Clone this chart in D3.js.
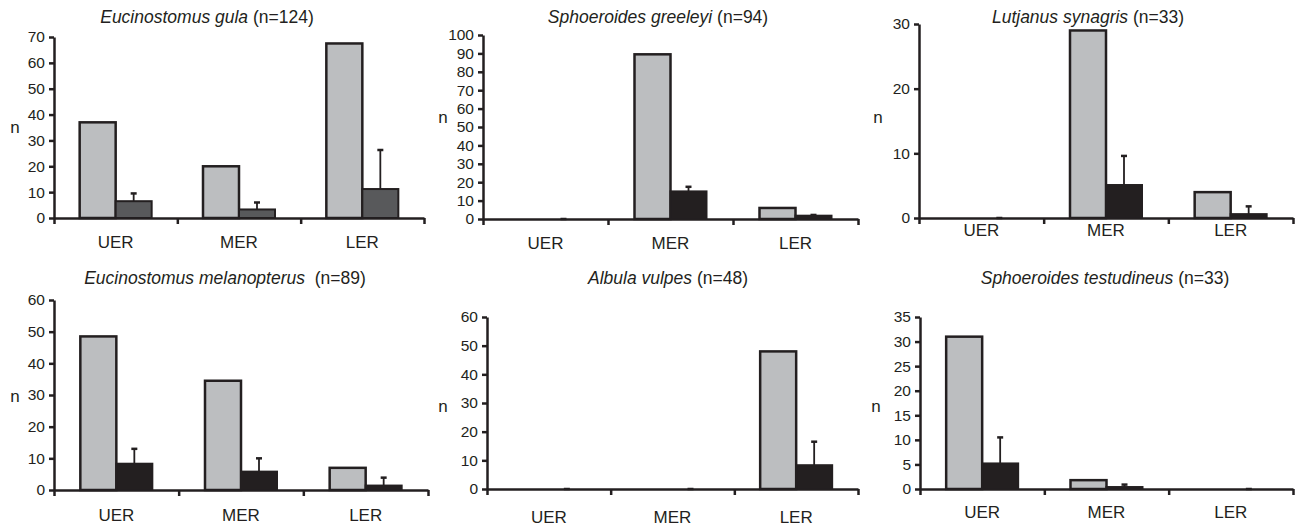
<!DOCTYPE html>
<html>
<head>
<meta charset="utf-8">
<script src="https://cdn.jsdelivr.net/npm/d3@7"></script>
<style>
    body { margin: 0; background: #fff; }
    svg { display: block; font-family: "Liberation Sans", Arial, sans-serif; }
    .axis path, .axis line { stroke: #231f20; stroke-width: 2.5; }
    .axis text { fill: #231f20; font-size: 15.5px; font-family: "Liberation Sans", Arial, sans-serif; }
</style>
</head>
<body>
<div id="chart"></div>
<script>
// Six small panels: counts per estuary region, grey = n, dark = mean with error bar
const regions = ["UER", "MER", "LER"];
const speciesNames = ["Eucinostomus gula", "Sphoeroides greeleyi", "Lutjanus synagris",
    "Eucinostomus melanopterus", "Albula vulpes", "Sphoeroides testudineus"];
const sampleSizes = [124, 94, 33, 89, 48, 33];
const countValues = [[37, 20, 67.5], [0, 89.5, 6], [0, 29, 4], [48.5, 34.5, 7], [0, 0, 48], [31, 1.8, 0]];
const meanValues = [[6.5, 3.3, 11.2], [0, 15, 1.8], [0, 5.1, 0.6], [8.3, 5.8, 1.4], [0, 0, 8.3], [5.2, 0.4, 0]];
const errorTops = [[9.5, 6, 26.3], [0, 17.5, 2.2], [0, 9.6, 1.8], [13, 10, 3.9], [0, 0, 16.5], [10.5, 0.9, 0]];
const yMax = [70, 100, 30, 60, 60, 35];
const yStep = [10, 10, 10, 10, 10, 5];

// layout of each panel (pixels)
const layout = [
    { x0: 54, x1: 424, yTop: 37, y0: 218, tx: 207, ty: 17, nx: 15, ny: 128, lab: 24, dark: "#58595b", gap: "" },
    { x0: 483, x1: 858, yTop: 35, y0: 219, tx: 658, ty: 17, nx: 443, ny: 118, lab: 24, dark: "#231f20", gap: "" },
    { x0: 919, x1: 1293, yTop: 24, y0: 218, tx: 1088, ty: 17, nx: 878, ny: 118, lab: 12, dark: "#231f20", gap: "" },
    { x0: 54, x1: 428, yTop: 300, y0: 490, tx: 225, ty: 278, nx: 15, ny: 397, lab: 25, dark: "#231f20", gap: "\u00a0" },
    { x0: 487, x1: 858, yTop: 317, y0: 489, tx: 668, ty: 278, nx: 443, ny: 407, lab: 28, dark: "#231f20", gap: "" },
    { x0: 920, x1: 1293, yTop: 317, y0: 489, tx: 1105, ty: 278, nx: 876, ny: 407, lab: 23, dark: "#231f20", gap: "" }
];

const ink = "#231f20";
const grey = "#bcbec0";
const barW = 36;

const svg = d3.select("#chart")
    .append("svg")
    .attr("width", 1295)
    .attr("height", 526);

speciesNames.forEach((name, i) => {
    const L = layout[i];
    const g = svg.append("g");

    const x = d3.scaleBand().domain(regions).range([L.x0, L.x1]).paddingInner(0).paddingOuter(0);
    const xBound = d3.scaleLinear().domain([0, 3]).range([L.x0, L.x1]);
    const y = d3.scaleLinear().domain([0, yMax[i]]).range([L.y0, L.yTop]);

    // title
    const title = g.append("text")
        .attr("x", L.tx)
        .attr("y", L.ty + 6)
        .attr("text-anchor", "middle")
        .attr("fill", ink)
        .attr("font-size", "17.5px");
    title.append("tspan").attr("font-style", "italic").text(name);
    title.append("tspan").text(" " + L.gap + "(n=" + sampleSizes[i] + ")");

    // y label
    g.append("text")
        .attr("x", L.nx)
        .attr("y", L.ny + 5)
        .attr("text-anchor", "middle")
        .attr("fill", ink)
        .attr("font-size", "17px")
        .text("n");

    const data = regions.map((r, j) => ({
        region: r,
        count: countValues[i][j],
        mean: meanValues[i][j],
        err: errorTops[i][j]
    }));

    // grey bars (count)
    g.selectAll(".count")
        .data(data)
        .enter()
        .append("rect")
        .attr("x", d => x(d.region) + x.bandwidth() / 2 - barW)
        .attr("y", d => y(d.count))
        .attr("width", barW)
        .attr("height", d => y(0) - y(d.count))
        .attr("fill", grey)
        .attr("stroke", ink)
        .attr("stroke-width", 2.5);

    // error bars
    g.selectAll(".err")
        .data(data)
        .enter()
        .append("line")
        .attr("x1", d => x(d.region) + x.bandwidth() / 2 + barW / 2)
        .attr("x2", d => x(d.region) + x.bandwidth() / 2 + barW / 2)
        .attr("y1", d => y(d.mean))
        .attr("y2", d => y(d.err))
        .attr("stroke", ink)
        .attr("stroke-width", 1.8);

    g.selectAll(".cap")
        .data(data)
        .enter()
        .append("line")
        .attr("x1", d => x(d.region) + x.bandwidth() / 2 + barW / 2 - 3)
        .attr("x2", d => x(d.region) + x.bandwidth() / 2 + barW / 2 + 3)
        .attr("y1", d => y(d.err))
        .attr("y2", d => y(d.err))
        .attr("stroke", ink)
        .attr("stroke-width", 2.5);

    // dark bars (mean)
    g.selectAll(".mean")
        .data(data)
        .enter()
        .append("rect")
        .attr("x", d => x(d.region) + x.bandwidth() / 2)
        .attr("y", d => y(d.mean))
        .attr("width", barW)
        .attr("height", d => y(0) - y(d.mean))
        .attr("fill", L.dark)
        .attr("stroke", ink)
        .attr("stroke-width", 2);

    // axes
    g.append("g")
        .attr("class", "axis")
        .attr("transform", `translate(${L.x0},0)`)
        .call(d3.axisLeft(y)
            .tickValues(d3.range(0, yMax[i] + 0.001, yStep[i]))
            .tickSize(5)
            .tickPadding(4)
            .tickSizeOuter(0));

    g.append("g")
        .attr("class", "axis")
        .attr("transform", `translate(0,${L.y0})`)
        .call(d3.axisBottom(xBound)
            .tickValues([0, 1, 2, 3])
            .tickFormat("")
            .tickSize(6)
            .tickSizeOuter(0));

    g.selectAll(".cat")
        .data(regions)
        .enter()
        .append("text")
        .attr("x", d => x(d) + x.bandwidth() / 2)
        .attr("y", L.y0 + L.lab + 6)
        .attr("text-anchor", "middle")
        .attr("fill", ink)
        .attr("font-size", "17px")
        .text(d => d);
});
</script>
</body>
</html>
